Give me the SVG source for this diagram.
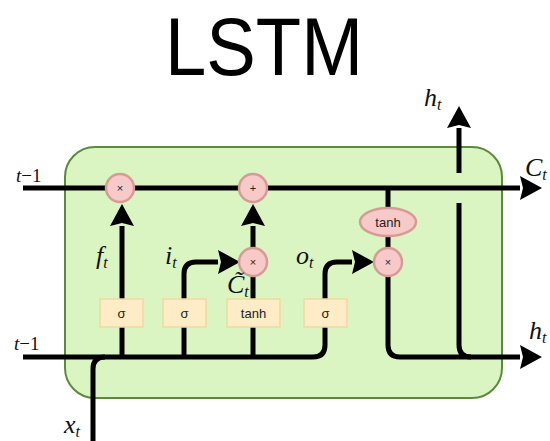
<svg xmlns="http://www.w3.org/2000/svg" width="550" height="441" viewBox="0 0 550 441">
<style>
.line{fill:none;stroke:#000;stroke-width:5}
.op{fill:#f8c9c9;stroke:#d59c96;stroke-width:2.5}
.gate{fill:#fdecc6;stroke:#f2d7a0;stroke-width:1.5}
.lbl{font-family:"Liberation Sans",Arial,sans-serif;fill:#222;text-anchor:middle}
.math{font-family:"Liberation Serif","DejaVu Serif",serif;font-style:italic;fill:#111}
.up{font-style:normal}
</style>
<defs>
<marker id="ah" viewBox="0 0 22 24" refX="0" refY="12" markerWidth="22" markerHeight="24" markerUnits="userSpaceOnUse" orient="auto">
<path d="M0,0 L22,12 L0,24 L3,12 Z" fill="#000"/>
</marker>
</defs>
<rect width="550" height="441" fill="#fff"/>
<text x="264" y="75" font-family="'Liberation Sans',Arial,sans-serif" font-size="82" text-anchor="middle" textLength="198" lengthAdjust="spacingAndGlyphs" fill="#000">LSTM</text>
<g id="cell">
<rect x="65" y="147" width="437" height="251" rx="30" fill="#daf5c2" stroke="#5b8a3c" stroke-width="2"/>
</g>
<g id="connectors">
<path class="line" d="M23 188 H520" marker-end="url(#ah)"/>
<path class="line" d="M23 357 H313 Q325 357 325 345 V274 Q325 262 337 262 H352" marker-end="url(#ah)"/>
<path class="line" d="M93 441 V369 Q93 357 105 357"/>
<path class="line" d="M122 357 V226" marker-end="url(#ah)"/>
<path class="line" d="M184 357 V274 Q184 262 196 262 H218" marker-end="url(#ah)"/>
<path class="line" d="M253 357 V262"/>
<path class="line" d="M253 248 V226" marker-end="url(#ah)"/>
<path class="line" d="M388 188 V262"/>
<path class="line" d="M388 276 V345 Q388 357 400 357 H520" marker-end="url(#ah)"/>
<path class="line" d="M459 203 V345 Q459 357 471 357"/>
<path class="line" d="M459 173 V128" marker-end="url(#ah)"/>
</g>
<g id="forget_mult"><circle class="op" cx="120" cy="188" r="14"/><text class="lbl" x="120" y="192" font-size="11">×</text></g>
<g id="add"><circle class="op" cx="253" cy="188" r="14"/><text class="lbl" x="253" y="192" font-size="11">+</text></g>
<g id="input_mult"><circle class="op" cx="253" cy="262" r="14"/><text class="lbl" x="253" y="266" font-size="11">×</text></g>
<g id="output_mult"><circle class="op" cx="388" cy="262" r="14"/><text class="lbl" x="388" y="266" font-size="11">×</text></g>
<g id="tanh_out"><ellipse class="op" cx="388" cy="222" rx="28" ry="14"/><text class="lbl" x="388" y="227" font-size="13">tanh</text></g>
<g id="sigma_f"><rect class="gate" x="100" y="299" width="43" height="28"/><text class="lbl" x="121.5" y="318" font-size="13">σ</text></g>
<g id="sigma_i"><rect class="gate" x="163" y="299" width="43" height="28"/><text class="lbl" x="184.5" y="318" font-size="13">σ</text></g>
<g id="tanh_c"><rect class="gate" x="227" y="299" width="53" height="28"/><text class="lbl" x="253.5" y="318" font-size="13">tanh</text></g>
<g id="sigma_o"><rect class="gate" x="304" y="299" width="43" height="28"/><text class="lbl" x="325.5" y="318" font-size="13">σ</text></g>
<g id="labels">
<text class="math" x="16" y="182" font-size="19">t<tspan class="up">−1</tspan></text>
<text class="math" x="14" y="350" font-size="19">t<tspan class="up">−1</tspan></text>
<text class="math" x="64" y="433" font-size="26">x<tspan font-size="16" dy="4">t</tspan></text>
<text class="math" x="424" y="106" font-size="26">h<tspan font-size="16" dy="4">t</tspan></text>
<text class="math" x="525" y="176" font-size="26">C<tspan font-size="16" dy="4">t</tspan></text>
<text class="math" x="529" y="339" font-size="26">h<tspan font-size="16" dy="4">t</tspan></text>
<text class="math" x="96" y="264" font-size="26">f<tspan font-size="16" dy="4">t</tspan></text>
<text class="math" x="165" y="264" font-size="26">i<tspan font-size="16" dy="4">t</tspan></text>
<text class="math" x="296" y="264" font-size="26">o<tspan font-size="16" dy="4">t</tspan></text>
<text class="math" x="227" y="293" font-size="26">C̃<tspan font-size="16" dy="4">t</tspan></text>
</g>
</svg>
